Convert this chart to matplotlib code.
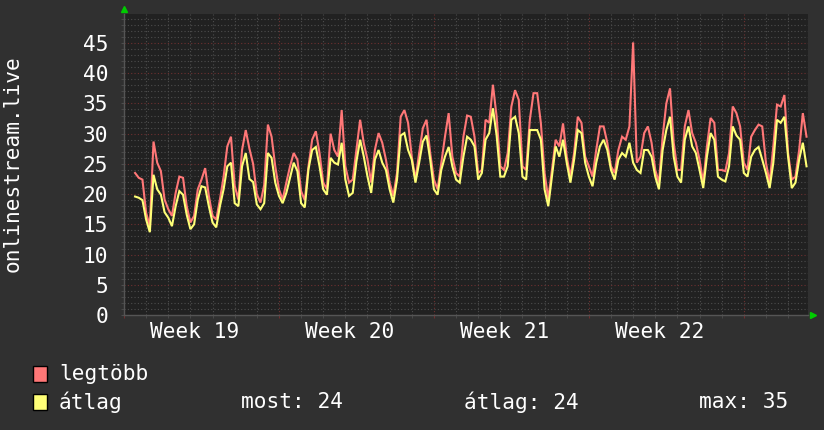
import numpy as np
import matplotlib
matplotlib.use("Agg")
import matplotlib.pyplot as plt
from matplotlib.patches import Rectangle

plt.rcParams['font.family'] = ['DejaVu Sans Mono', 'DejaVu Sans']

# ---- data, 6 samples per day, starting at day 0.5 of week 19
legtobb = [
    23.5, 22.7, 22.4,
    16.9, 14.7, 28.7, 25.2, 23.8, 19.1,
    17.5, 16.4, 20.2, 22.9, 22.7, 18.0,
    15.3, 16.4, 20.8, 22.4, 24.3, 19.7,
    16.4, 15.8, 19.1, 22.9, 27.9, 29.5,
    21.4, 19.1, 27.3, 30.6, 27.5, 25.0,
    20.0, 18.6, 21.5, 31.5, 29.5, 24.6,
    20.8, 19.1, 21.9, 24.6, 26.8, 25.7,
    20.5, 19.0, 24.6, 29.0, 30.4, 26.8,
    21.9, 20.8, 30.0, 27.3, 26.2, 33.9,
    24.6, 21.9, 22.4, 27.3, 32.3, 28.4,
    25.7, 21.9, 27.3, 30.1, 28.5, 25.7,
    21.9, 19.7, 23.5, 32.8, 33.9, 31.8,
    26.2, 22.4, 26.8, 30.9, 32.3, 26.8,
    22.4, 20.8, 25.2, 29.5, 33.4, 26.2,
    23.5, 22.9, 29.5, 33.0, 32.8, 29.5,
    23.5, 24.0, 32.3, 31.8, 38.1, 32.8,
    24.6, 24.0, 26.8, 34.5, 37.2, 35.6,
    24.6, 24.0, 32.3, 36.7, 36.7, 31.7,
    23.5, 19.2, 24.0, 29.0, 27.9, 31.7,
    26.2, 22.9, 26.8, 32.8, 31.8, 26.2,
    24.6, 22.9, 27.3, 31.2, 31.2, 28.5,
    24.6, 23.5, 27.3, 29.5, 29.0, 31.2,
    45.1, 25.2, 26.2, 30.1, 31.2, 28.5,
    24.0, 21.9, 29.5, 35.0, 37.5, 28.5,
    24.0, 24.0, 31.2, 33.9, 30.1, 28.5,
    25.7, 21.9, 27.9, 32.6, 31.8, 24.0,
    24.0, 23.8, 26.8, 34.5, 33.4, 31.2,
    25.2, 24.0, 29.5, 30.6, 31.5, 31.2,
    25.2, 21.9, 27.9, 34.8, 34.5, 36.4,
    26.8, 22.4, 22.9, 27.3, 33.4, 29.5,
]
atlag = [
    19.6, 19.4, 19.0,
    15.8, 13.7, 23.2, 20.8, 19.9, 17.0,
    16.1, 14.7, 18.0, 20.5, 19.9, 16.6,
    14.2, 15.0, 19.1, 21.3, 21.1, 18.0,
    15.3, 14.5, 18.0, 20.8, 24.6, 25.2,
    18.5, 18.0, 24.6, 26.8, 22.5, 22.0,
    18.3, 17.5, 18.5, 26.8, 26.0, 21.9,
    19.7, 18.5, 20.2, 22.7, 25.2, 23.8,
    18.5, 17.8, 24.1, 27.3, 27.8, 24.6,
    20.8, 19.9, 26.0, 25.2, 24.9, 28.5,
    22.4, 19.7, 20.2, 25.4, 29.0, 26.2,
    22.9, 20.2, 25.7, 27.3, 25.2, 24.0,
    20.8, 18.6, 22.4, 29.7, 30.1, 27.3,
    25.7, 21.9, 25.2, 28.7, 29.7, 25.7,
    20.8, 19.9, 24.0, 26.2, 27.8, 24.6,
    22.4, 21.9, 26.2, 29.5, 29.0, 27.9,
    22.4, 23.5, 29.0, 30.1, 34.2, 29.7,
    22.9, 22.9, 24.6, 32.3, 32.8, 30.1,
    22.9, 22.4, 30.6, 30.6, 30.6, 29.0,
    20.8, 18.0, 22.9, 27.9, 26.2, 29.0,
    25.2, 21.9, 25.7, 30.6, 30.1, 25.2,
    22.9, 21.3, 25.2, 27.9, 29.0, 27.3,
    24.0, 22.4, 25.7, 26.8, 26.2, 28.5,
    25.2, 24.0, 23.5, 27.3, 27.3, 26.2,
    22.9, 20.8, 27.3, 30.6, 32.8, 26.2,
    22.9, 21.9, 29.0, 31.2, 27.9, 26.8,
    24.0, 21.0, 26.2, 30.1, 29.0, 22.9,
    22.4, 22.1, 24.6, 31.2, 29.7, 29.0,
    23.5, 22.9, 26.2, 27.3, 27.8, 25.7,
    23.5, 21.0, 25.2, 32.3, 31.8, 32.8,
    26.2, 21.0, 21.9, 25.7, 28.5, 24.6,
]
week_labels = ["Week 19", "Week 20", "Week 21", "Week 22"]
ylabel = "onlinestream.live"
legend_names = ["legtöbb", "átlag"]
stats = ["most: 24", "átlag: 24", "max: 35"]

samples_per_day = 6
t = 0.5 + np.arange(len(legtobb)) / samples_per_day   # days since start of week 19

# ---- styling
W, H = 824, 430
BG = '#303030'
CANVAS = '#212121'
RED = '#ff7777'
YEL = '#ffff77'
MINOR = '#4d4d4d'
MAJOR = '#6e3030'
TXT = '#ffffff'
FS = 15.2

fig = plt.figure(figsize=(W / 100, H / 100), dpi=100, facecolor=BG)
L, R, T, B = 124, 808, 14, 315
ax = fig.add_axes([L / W, 1 - B / H, (R - L) / W, (B - T) / H])
ax.set_facecolor(CANVAS)
ax.set_xlim(0.4, 30.9)
ax.set_ylim(0, 49.8)

# grid
ax.set_xticks(np.arange(0, 31, 7))
ax.set_xticks(np.arange(0, 31, 1), minor=True)
ax.set_yticks(np.arange(0, 50, 5))
ax.set_yticks(np.arange(0, 50, 1), minor=True)
ax.grid(which='minor', color=MINOR, linestyle=(0, (1, 2)), linewidth=0.8)
ax.grid(which='major', color=MAJOR, linestyle=(0, (1, 2)), linewidth=0.8)
ax.set_axisbelow(True)
ax.tick_params(axis='x', which='both', labelbottom=False, length=2.5, color=MINOR)
ax.tick_params(axis='x', which='major', color=MAJOR)
ax.tick_params(axis='y', which='minor', length=2, color=MINOR)
ax.tick_params(axis='y', which='major', length=2.5, color=MINOR,
               labelcolor=TXT, labelsize=FS, pad=9)
for s in ['top', 'right']:
    ax.spines[s].set_visible(False)
for s in ['left', 'bottom']:
    ax.spines[s].set_color('#555555')
    ax.spines[s].set_linewidth(1)

# data lines
ax.plot(t, legtobb, color=RED, lw=1.5, solid_joinstyle='miter')
ax.plot(t, atlag, color=YEL, lw=1.5, solid_joinstyle='miter')

# week labels centred mid-week
for i, lab in enumerate(week_labels):
    ax.text(3.5 + 7 * i - 0.3, -0.055, lab, transform=ax.get_xaxis_transform(),
            ha='center', va='center', color=TXT, fontsize=FS)

# y axis label
fig.text(13 / W, 1 - 164 / H, ylabel, rotation=90, ha='center', va='center',
         color=TXT, fontsize=FS)

# green arrows
ax.plot([0], [1 + 5 / (B - T)], marker='^', color='#00cc00', markersize=5,
        transform=ax.transAxes, clip_on=False)
ax.plot([1 + 5 / (R - L)], [0], marker='>', color='#00cc00', markersize=5,
        transform=ax.transAxes, clip_on=False)

# legend
def px(x, y):
    return x / W, 1 - y / H

for (y0, col, name) in [(366, RED, legend_names[0]), (394, YEL, legend_names[1])]:
    fig.patches.append(Rectangle(px(33, y0 + 16), 14 / W, 16 / H,
                                 transform=fig.transFigure, facecolor=col,
                                 edgecolor='black', linewidth=1))
    fig.text(*px(59, y0 + 8), name, ha='left', va='center', color=TXT, fontsize=FS)

for xs, s in zip([241, 464, 699], stats):
    fig.text(*px(xs, 402), s, ha='left', va='center', color=TXT, fontsize=FS)

fig.savefig('out.png', dpi=100, facecolor=BG)
